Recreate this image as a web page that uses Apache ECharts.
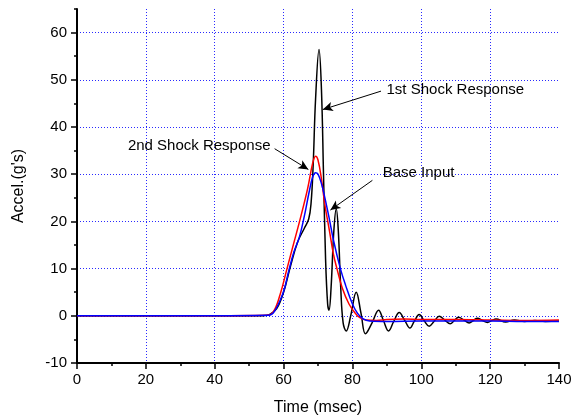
<!DOCTYPE html>
<html>
<head>
<meta charset="utf-8">
<script src="https://cdn.jsdelivr.net/npm/echarts@6/dist/echarts.min.js"></script>
<style>
  html, body { margin: 0; padding: 0; background: #fff; }
  #chart { width: 571px; height: 417px; }
</style>
</head>
<body>
<div id="chart"></div>
<script>
// values
var firstTime  = [0, 20, 40, 54, 56, 58, 60, 62, 64, 66, 67.3, 68, 68.6, 69.3, 70.3, 71, 71.6, 72.2, 72.8, 73.2, 73.8, 74.6, 75.3, 75.9, 76.6, 77.3, 78.2, 79.5, 81.1, 82.5, 83.8, 85.7, 87.6, 89, 90.5, 92, 93.6, 95.2, 96.7, 98, 99.4, 100.8, 102.3, 103.8, 105.2, 106.8, 108.4, 109.6, 110.8, 112.4, 113.9, 115.1, 116.3, 117.8, 119.2, 120.5, 121.7, 124.5, 127, 130, 133, 136, 140];
var firstAccel = [0, 0, 0, 0, 0.3, 1.5, 5, 10.5, 15.5, 18.5, 20.5, 24, 32, 46, 56.4, 48, 30, 12, 2.5, 1.2, 6, 18, 22.7, 18, 6, -1.5, -3.2, 0, 5.0, 0.5, -3.8, -1.5, 1.2, -1, -3.2, -1.2, 0.7, -1, -2.6, -1.1, 0.25, -1, -2.2, -1.1, -0.1, -0.9, -1.7, -1, -0.3, -0.9, -1.5, -1, -0.5, -1, -1.4, -1, -0.7, -1.3, -0.9, -1.2, -1.0, -1.2, -1.1];

var secondTime  = [0, 40, 55, 57, 59, 61, 63, 65, 67, 68.5, 69.3, 70, 71, 72, 73.3, 74.5, 75.5, 77, 79, 81, 82, 84, 87, 90, 95, 100, 110, 120, 130, 140];
var secondAccel = [0, 0, 0.1, 0.8, 4.5, 10, 15.5, 21, 27, 32.5, 33.8, 33, 29, 23.5, 18.1, 13, 10, 6, 2.5, 0.4, -0.3, -0.9, -1.0, -0.8, -0.7, -0.8, -0.8, -0.9, -1.0, -0.9];

var baseTime  = [0, 40, 55, 57, 59.8, 61.5, 63, 64.6, 66, 67.5, 68.5, 69.3, 70, 71, 72, 73.3, 74.5, 76.5, 78, 80, 81.5, 83, 85, 90, 100, 110, 120, 130, 140];
var baseAccel = [0, 0, 0.1, 0.6, 4.7, 9.5, 13.5, 16.7, 21, 26.5, 29.5, 30.3, 30, 28, 25, 20.5, 16, 10, 6.5, 2.5, 0.5, -0.6, -1.1, -1.2, -1.1, -1.1, -1.1, -1.2, -1.2];

// annotations: [text, label point, arrow start, arrow tip, side]
var notes = [
    ['1st Shock Response', [89.9, 47.8], [88.3, 47.6], [71.4, 43.7], 'right'],
    ['2nd Shock Response', [56.2, 35.9], [57.4, 35.4], [67.2, 31.0], 'left'],
    ['Base Input',         [88.8, 30.3], [85.8, 28.7], [73.6, 22.4], 'right']
];

var FONT = '"Liberation Sans", Arial, sans-serif';

function zip(t, v) {
    return t.map(function (x, i) { return [x, v[i]]; });
}

var chart = echarts.init(document.getElementById('chart'));

var option = {
    animation: false,
    grid: { left: 77, right: 12, top: 9, bottom: 54, outerBoundsMode: 'none', containLabel: false },
    xAxis: {
        type: 'value',
        min: 0, max: 140, interval: 20,
        name: 'Time (msec)',
        nameLocation: 'middle',
        nameGap: 37,
        nameTextStyle: { color: '#000', fontSize: 16, fontFamily: FONT },
        axisLine: { onZero: false, lineStyle: { color: '#000', width: 2 } },
        axisTick: { length: 6, lineStyle: { color: '#000', width: 1.5 } },
        minorTick: { show: true, splitNumber: 2, length: 3, lineStyle: { color: '#000', width: 1.5 } },
        axisLabel: { color: '#000', fontSize: 15, fontFamily: FONT, margin: 9 },
        minorSplitLine: { show: false },
        splitLine: {
            show: true, showMinLine: false, showMaxLine: false,
            lineStyle: { color: '#2a2aff', type: [1, 2], width: 1 }
        }
    },
    yAxis: [{
        type: 'value',
        min: -10, max: 65, interval: 10,
        name: "Accel.(g's)",
        nameLocation: 'middle',
        nameGap: 50,
        nameRotate: 90,
        nameTextStyle: { color: '#000', fontSize: 16, fontFamily: FONT },
        axisLine: { onZero: false, lineStyle: { color: '#000', width: 2 } },
        axisTick: { length: 6, lineStyle: { color: '#000', width: 1.5 } },
        axisLabel: { color: '#000', fontSize: 15, fontFamily: FONT, margin: 10, showMaxLabel: false },
        splitLine: {
            show: true, showMinLine: false, showMaxLine: false,
            lineStyle: { color: '#2a2aff', type: [1, 2], width: 1 }
        }
    }, {
        // only the short ticks every 5
        type: 'value',
        position: 'left',
        min: -10, max: 65, interval: 5,
        axisLine: { show: false },
        axisTick: { length: 3, lineStyle: { color: '#000', width: 1.5 } },
        axisLabel: { show: false },
        splitLine: { show: false }
    }],
    series: [
        {
            name: '1st Shock Response',
            type: 'line',
            data: zip(firstTime, firstAccel),
            smooth: 0.4,
            showSymbol: false,
            lineStyle: { color: '#000', width: 1.5 },
            markLine: {
                silent: true,
                lineStyle: { color: '#000', width: 1, type: 'solid' },
                label: { show: false },
                symbol: ['none', 'arrow'],
                symbolSize: [7, 10],
                data: notes.map(function (n) {
                    return [{ coord: n[2] }, { coord: n[3] }];
                })
            },
            markPoint: {
                silent: true,
                symbolSize: 0,
                data: notes.map(function (n) {
                    return {
                        coord: n[1],
                        label: {
                            show: true,
                            position: n[4],
                            distance: 0,
                            formatter: n[0],
                            color: '#000',
                            fontSize: 15,
                            fontFamily: FONT
                        }
                    };
                })
            }
        },
        {
            name: '2nd Shock Response',
            type: 'line',
            data: zip(secondTime, secondAccel),
            smooth: 0.4,
            showSymbol: false,
            lineStyle: { color: '#ff0000', width: 1.5 }
        },
        {
            name: 'Base Input',
            type: 'line',
            data: zip(baseTime, baseAccel),
            smooth: 0.4,
            showSymbol: false,
            lineStyle: { color: '#0000ff', width: 1.5 }
        }
    ]
};

chart.setOption(option);
</script>
</body>
</html>
